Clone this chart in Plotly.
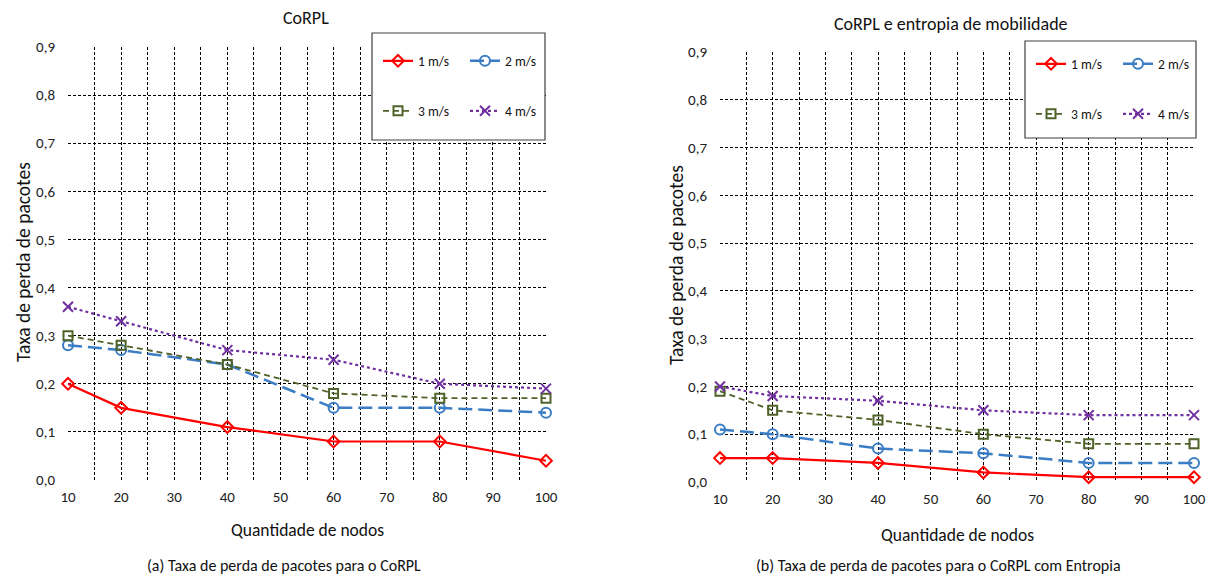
import plotly.graph_objects as go

nodes = [10, 20, 40, 60, 80, 100]
series_names = ["1 m/s", "2 m/s", "3 m/s", "4 m/s"]

corpl_1 = [0.20, 0.15, 0.11, 0.08, 0.08, 0.04]
corpl_2 = [0.28, 0.27, 0.24, 0.15, 0.15, 0.14]
corpl_3 = [0.30, 0.28, 0.24, 0.18, 0.17, 0.17]
corpl_4 = [0.36, 0.33, 0.27, 0.25, 0.20, 0.19]

ent_1 = [0.05, 0.05, 0.04, 0.02, 0.01, 0.01]
ent_2 = [0.11, 0.10, 0.07, 0.06, 0.04, 0.04]
ent_3 = [0.19, 0.15, 0.13, 0.10, 0.08, 0.08]
ent_4 = [0.20, 0.18, 0.17, 0.15, 0.14, 0.14]

title_a = "CoRPL"
title_b = "CoRPL e entropia de mobilidade"
caption_a = "(a) Taxa de perda de pacotes para o CoRPL"
caption_b = "(b) Taxa de perda de pacotes para o CoRPL com Entropia"
x_title = "Quantidade de nodos"
y_title = "Taxa de perda de pacotes"

FONT = "Carlito, Calibri, 'Open Sans', sans-serif"
W, H = 1217, 577

styles = [
    dict(color="#FF0000", dash="solid", width=2.2, symbol="diamond-open", size=9),
    dict(color="#3A7DC4", dash="14px,6px", width=2.5, symbol="circle-open", size=10),
    dict(color="#4F6228", dash="6px,4px", width=1.8, symbol="square-open", size=9),
    dict(color="#7030A0", dash="dot", width=2.2, symbol="x-thin", size=10),
]

fig = go.Figure()

left = [corpl_1, corpl_2, corpl_3, corpl_4]
right = [ent_1, ent_2, ent_3, ent_4]
legend_ids_left = ["legend", "legend", "legend2", "legend2"]
legend_ids_right = ["legend3", "legend3", "legend4", "legend4"]


def add_series(vals_list, xa, ya, legend_ids):
    for i, (name, vals) in enumerate(zip(series_names, vals_list)):
        s = styles[i]
        fig.add_trace(go.Scatter(
            x=nodes, y=vals, name=name, mode="lines+markers",
            line=dict(color=s["color"], dash=s["dash"], width=s["width"]),
            marker=dict(symbol=s["symbol"], size=s["size"], color=s["color"],
                        line=dict(color=s["color"], width=2)),
            xaxis=xa, yaxis=ya, legend=legend_ids[i], cliponaxis=False))


add_series(left, "x", "y", legend_ids_left)
add_series(right, "x2", "y2", legend_ids_right)

grid = dict(showgrid=True, gridcolor="black", gridwidth=1, griddash="3px,2px",
            zeroline=False, showline=False, ticks="", automargin=False,
            tickfont=dict(family=FONT, size=15, color="#222"))

xcommon = dict(range=[10, 100], tick0=0, dtick=10,
               minor=dict(dtick=5, showgrid=True, gridcolor="black", gridwidth=1,
                          griddash="3px,2px"), ticklabelstandoff=6, **grid)
ycommon = dict(range=[0, 0.9], tick0=0, dtick=0.1, tickformat=".1f",
               ticklabelstandoff=12, **grid)

ax_l = (68 / W, 546 / W)
ax_r = (720 / W, 1194 / W)
ay_l = (1 - 480 / H, 1 - 47 / H)
ay_r = (1 - 482 / H, 1 - 52 / H)

legend_common = dict(orientation="h", bgcolor="rgba(0,0,0,0)", borderwidth=0,
                     font=dict(family=FONT, size=13.5, color="#111"),
                     xanchor="left", yanchor="middle", entrywidth=42,
                     entrywidthmode="pixels", traceorder="normal",
                     itemwidth=30)

fig.update_layout(
    width=W, height=H,
    margin=dict(l=0, r=0, t=0, b=0, autoexpand=False),
    paper_bgcolor="white", plot_bgcolor="white",
    separators=",.",
    font=dict(family=FONT, color="#111"),
    xaxis=dict(domain=ax_l, anchor="y", **xcommon),
    yaxis=dict(domain=ay_l, anchor="x", **ycommon),
    xaxis2=dict(domain=ax_r, anchor="y2", **xcommon),
    yaxis2=dict(domain=ay_r, anchor="x2", **ycommon),
    legend=dict(x=378 / W, y=1 - 61 / H, **legend_common),
    legend2=dict(x=378 / W, y=1 - 111 / H, **legend_common),
    legend3=dict(x=1031 / W, y=1 - 64 / H, **legend_common),
    legend4=dict(x=1031 / W, y=1 - 114 / H, **legend_common),
    showlegend=True,
)

# legend boxes
fig.add_shape(type="rect", xref="paper", yref="paper",
              x0=372 / W, x1=545 / W, y0=1 - 140 / H, y1=1 - 33 / H,
              line=dict(color="#404040", width=1.2), fillcolor="white", layer="above")
fig.add_shape(type="rect", xref="paper", yref="paper",
              x0=1025 / W, x1=1196 / W, y0=1 - 138 / H, y1=1 - 41 / H,
              line=dict(color="#404040", width=1.2), fillcolor="white", layer="above")

ann = []
ann.append(dict(text=title_a, x=306 / W, y=1 - 18 / H, font=dict(size=18)))
ann.append(dict(text=title_b, x=951 / W, y=1 - 24 / H, font=dict(size=18)))
ann.append(dict(text=x_title, x=307 / W, y=1 - 530 / H, font=dict(size=17.5)))
ann.append(dict(text=x_title, x=957 / W, y=1 - 535 / H, font=dict(size=17.5)))
ann.append(dict(text=caption_a, x=284 / W, y=1 - 565 / H, font=dict(size=16)))
ann.append(dict(text=caption_b, x=938 / W, y=1 - 565 / H, font=dict(size=16)))
ann.append(dict(text=y_title, x=23 / W, y=1 - 262 / H, textangle=-90, font=dict(size=19.5)))
ann.append(dict(text=y_title, x=676 / W, y=1 - 265 / H, textangle=-90, font=dict(size=19.5)))
for a in ann:
    a.update(xref="paper", yref="paper", showarrow=False, xanchor="center", yanchor="middle")
    a["font"].update(family=FONT, color="#111")
fig.update_layout(annotations=ann)

fig.write_html(
    "out.html",
    config={"displayModeBar": False},
    post_script="document.body.style.margin='0px';document.body.style.padding='0px';"
                "document.body.style.overflow='hidden';",
)
